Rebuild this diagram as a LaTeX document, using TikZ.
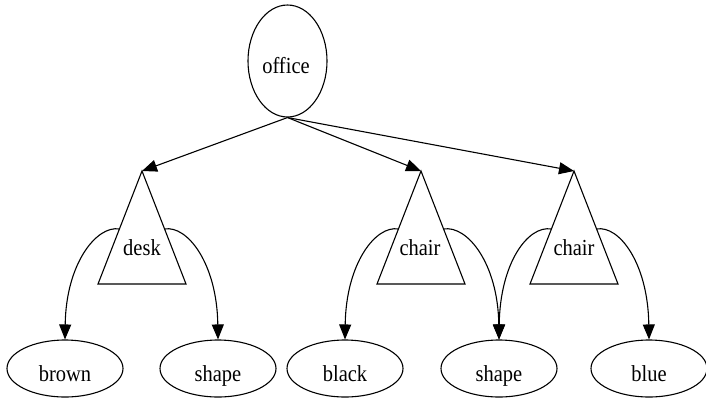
\documentclass[tikz,border=0pt]{standalone}
\usepackage{fontspec}
\setmainfont{Liberation Serif}
\usetikzlibrary{arrows.meta,shapes.geometric}
\begin{document}
\begin{tikzpicture}[x=1pt,y=-1pt,
  label/.style={font=\fontsize{20.5}{22}\selectfont,anchor=base,inner sep=0pt,yscale=1.12,transform shape},
  oval/.style={draw,ellipse,line width=1.1pt,inner sep=0pt},
  leaf/.style={oval,minimum width=116pt,minimum height=57pt},
  edge/.style={line width=1.1pt,-{Triangle[length=15pt,width=12pt]}},
  tri/.style={draw,line width=1.1pt,line join=miter}]
\useasboundingbox (0,0) rectangle (706,400);

% root
\node[oval,minimum width=79pt,minimum height=112pt] (office) at (287.5,61) {};
\node[label] (office-text) at (286,73) {office};

% triangles: apex at y=171, base at y=284, half-width 44
\foreach \n/\ax in {desk/142,chairA/421,chairB/574}{
  \coordinate (\n-apex) at (\ax,171);
  \coordinate (\n-l) at (\ax-22.6,229);
  \coordinate (\n-r) at (\ax+22.6,229);
  \draw[tri] (\n-apex) -- (\ax-44,284) -- (\ax+44,284) -- cycle;
}
\node[label] (desk) at (142,255) {desk};
\node[label] (chairA) at (420,255) {chair};
\node[label] (chairB) at (574,255) {chair};

% leaves
\node[leaf] (brown) at (65,368.5) {};
\node[leaf] (shapeA) at (218,368.5) {};
\node[leaf] (black) at (345,368.5) {};
\node[leaf] (shapeB) at (499,368.5) {};
\node[leaf] (blue) at (649,368.5) {};
\node[label] (brown-text) at (65,381) {brown};
\node[label] (shapeA-text) at (218,381) {shape};
\node[label] (black-text) at (345,381) {black};
\node[label] (shapeB-text) at (499,381) {shape};
\node[label] (blue-text) at (649,381) {blue};

% edges from the root
\draw[edge] (office.south) -- (desk-apex);
\draw[edge] (office.south) -- (chairA-apex);
\draw[edge] (office.south) -- (chairB-apex);

% curved edges to the leaves
\draw[edge] (desk-l) .. controls (97,225) and (66,263) .. (brown.north);
\draw[edge] (desk-r) .. controls (187,225) and (217,263) .. (shapeA.north);
\draw[edge] (chairA-l) .. controls (376,225) and (346,263) .. (black.north);
\draw[edge] (chairA-r) .. controls (467,225) and (498,263) .. (shapeB.north);
\draw[edge] (chairB-l) .. controls (528,225) and (500,263) .. (shapeB.north);
\draw[edge] (chairB-r) .. controls (619,225) and (648,263) .. (blue.north);
\end{tikzpicture}
\end{document}
